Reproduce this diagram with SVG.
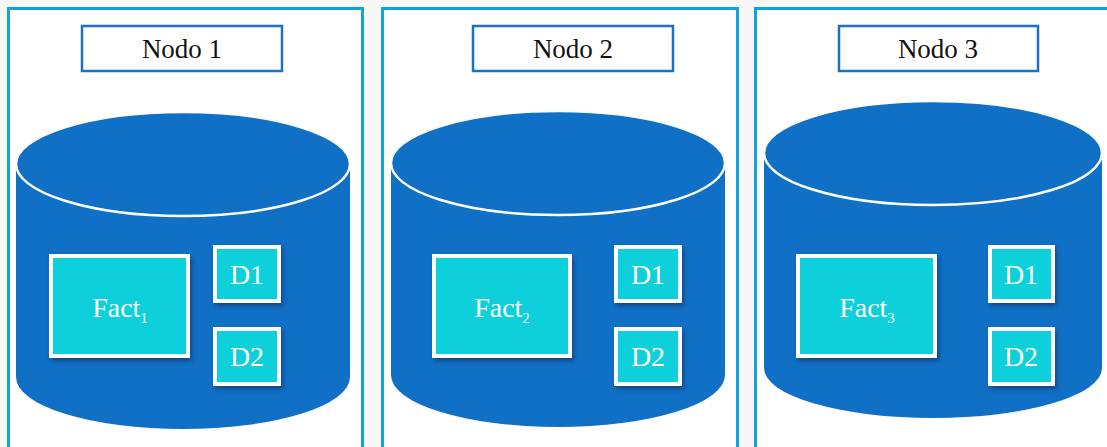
<svg xmlns="http://www.w3.org/2000/svg" width="1107" height="447" viewBox="0 0 1107 447">
  <style>
    .panel { fill: #ffffff; stroke: #12a2dc; stroke-width: 3; }
    .title-box { fill: #ffffff; stroke: #1a72c8; stroke-width: 2.5; }
    .title { font-family: "Liberation Serif", "DejaVu Serif", serif; font-size: 27px; fill: #111111; text-anchor: middle; }
    .db { fill: #1070c6; }
    .db-top { fill: #1070c6; stroke: #ffffff; stroke-width: 2.5; }
    .table { fill: #0cd0da; stroke: #ffffff; stroke-width: 4; filter: url(#shadow); }
    .label { font-family: "Liberation Serif", "DejaVu Serif", serif; font-size: 28px; fill: #ffffff; text-anchor: middle; }
    .sub { font-size: 15px; }
  </style>
  <defs>
    <filter id="shadow" x="-20%" y="-20%" width="150%" height="150%">
      <feDropShadow dx="2" dy="3" stdDeviation="2" flood-color="#0a2a55" flood-opacity="0.6"/>
    </filter>
  </defs>

  <!-- page background -->
  <rect x="0" y="0" width="1107" height="447" fill="#f7f7f7"/>

  <!-- Node 1 -->
  <g id="nodo1">
    <rect class="panel" x="8.5" y="8.5" width="354" height="450"/>
    <rect class="title-box" x="82" y="26" width="200" height="45"/>
    <text class="title" x="182" y="58">Nodo 1</text>
    <path class="db" d="M16,164 L16,377 A167,52 0 0 0 350,377 L350,164 Z"/>
    <ellipse class="db-top" cx="183" cy="164" rx="167" ry="52"/>
    <g id="fact1">
      <rect class="table" x="51" y="256" width="137" height="100"/>
      <text class="label" x="120" y="317">Fact<tspan class="sub" dy="6">1</tspan></text>
    </g>
    <g id="nodo1-d1">
      <rect class="table" x="215" y="247" width="64" height="54"/>
      <text class="label" x="247" y="284">D1</text>
    </g>
    <g id="nodo1-d2">
      <rect class="table" x="215" y="329" width="64" height="55"/>
      <text class="label" x="247" y="366">D2</text>
    </g>
  </g>

  <!-- Node 2 -->
  <g id="nodo2">
    <rect class="panel" x="382.5" y="8.5" width="355" height="450"/>
    <rect class="title-box" x="473" y="26" width="200" height="45"/>
    <text class="title" x="573" y="58">Nodo 2</text>
    <path class="db" d="M391,163 L391,375 A167,52 0 0 0 725,375 L725,163 Z"/>
    <ellipse class="db-top" cx="558" cy="163" rx="167" ry="52"/>
    <g id="fact2">
      <rect class="table" x="434" y="256" width="136" height="100"/>
      <text class="label" x="502" y="317">Fact<tspan class="sub" dy="6">2</tspan></text>
    </g>
    <g id="nodo2-d1">
      <rect class="table" x="616" y="247" width="64" height="54"/>
      <text class="label" x="648" y="284">D1</text>
    </g>
    <g id="nodo2-d2">
      <rect class="table" x="616" y="329" width="64" height="55"/>
      <text class="label" x="648" y="366">D2</text>
    </g>
  </g>

  <!-- Node 3 -->
  <g id="nodo3">
    <rect class="panel" x="755.5" y="8.5" width="370" height="450"/>
    <rect class="title-box" x="839" y="26" width="199" height="45"/>
    <text class="title" x="938" y="58">Nodo 3</text>
    <path class="db" d="M764,153 L764,368 A169,50 0 0 0 1102,368 L1102,153 Z"/>
    <ellipse class="db-top" cx="933" cy="153" rx="169" ry="52"/>
    <g id="fact3">
      <rect class="table" x="798" y="256" width="137" height="100"/>
      <text class="label" x="867" y="317">Fact<tspan class="sub" dy="6">3</tspan></text>
    </g>
    <g id="nodo3-d1">
      <rect class="table" x="990" y="247" width="63" height="54"/>
      <text class="label" x="1021" y="284">D1</text>
    </g>
    <g id="nodo3-d2">
      <rect class="table" x="990" y="329" width="63" height="55"/>
      <text class="label" x="1021" y="366">D2</text>
    </g>
  </g>
</svg>
